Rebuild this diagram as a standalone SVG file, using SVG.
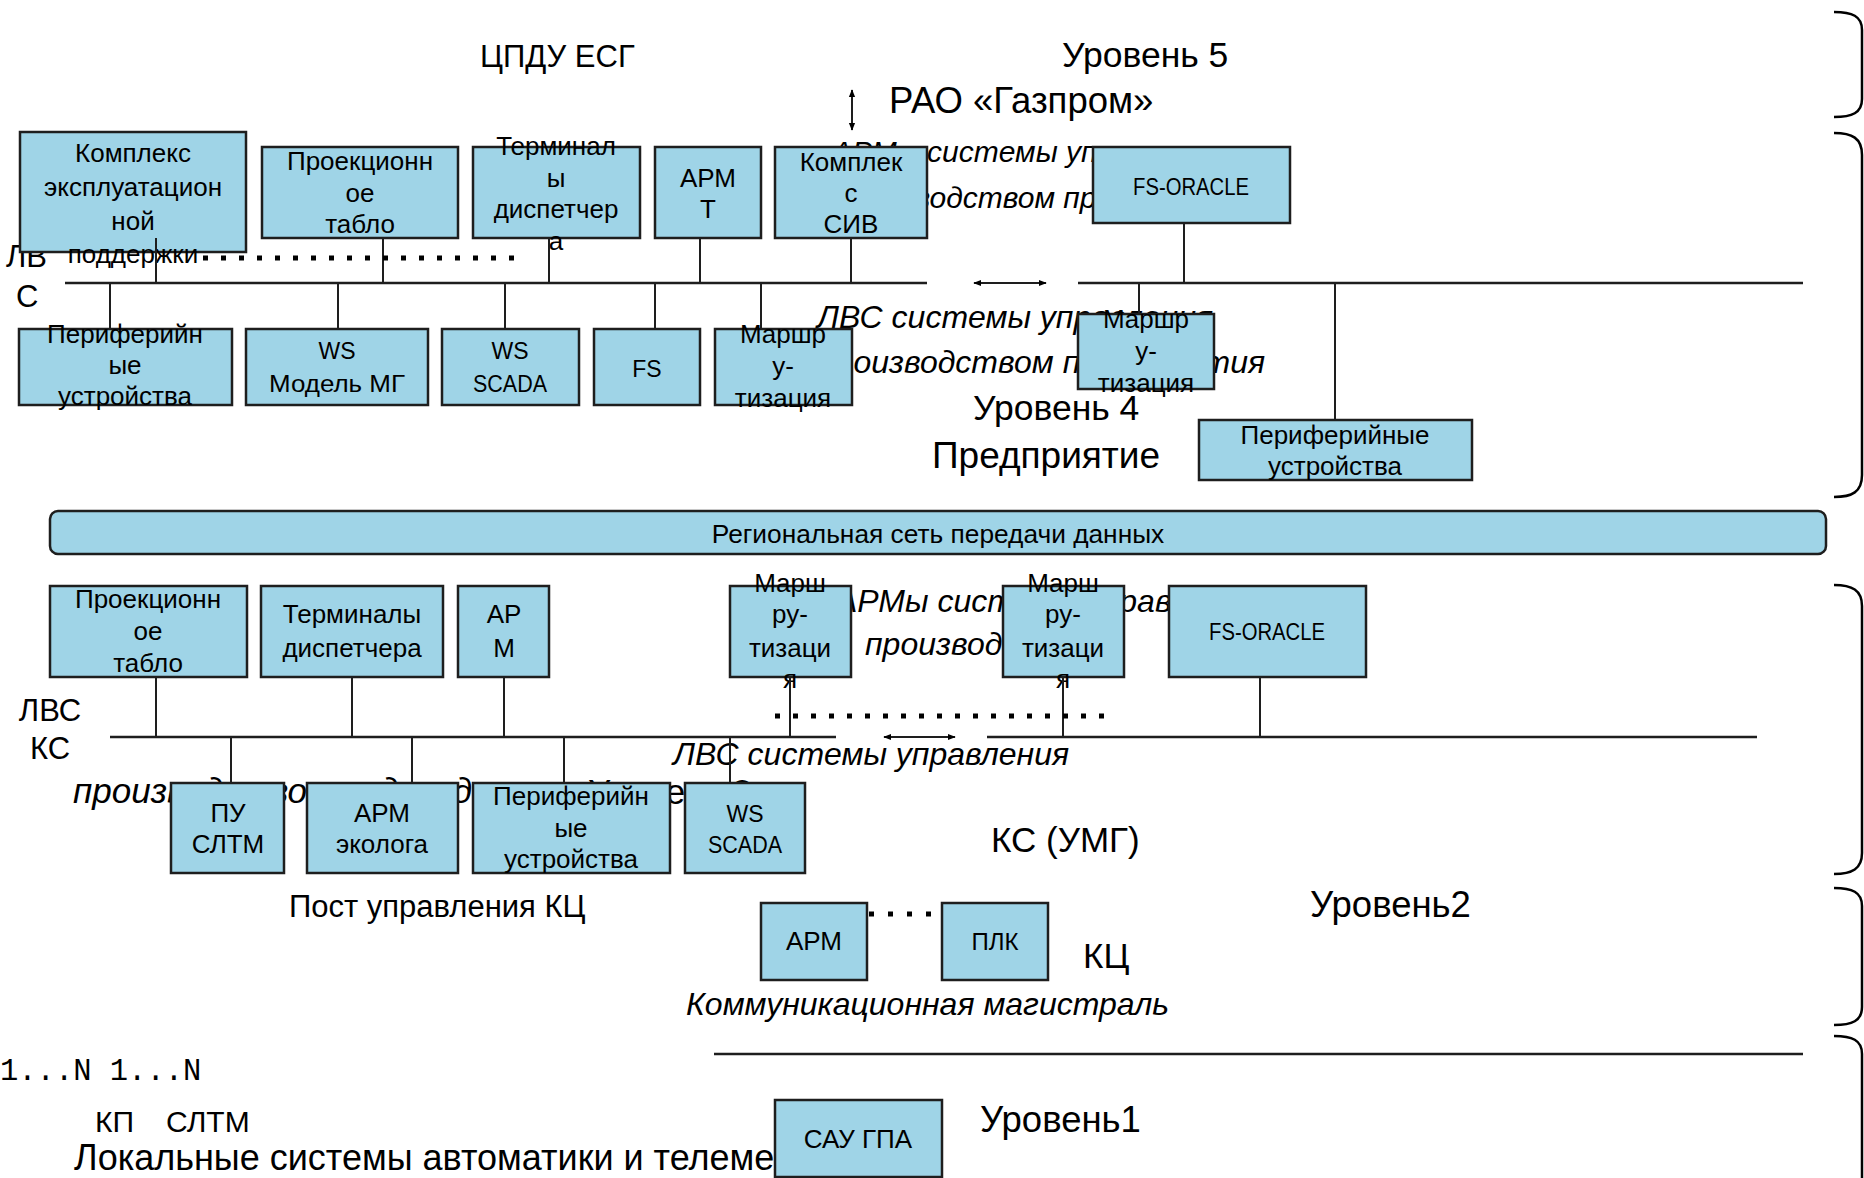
<svg xmlns="http://www.w3.org/2000/svg" width="1864" height="1178" viewBox="0 0 1864 1178">
<defs>
<style>
.bx{fill:#9fd4e7;stroke:#1e1e1e;stroke-width:2.5}
.t{font-family:"Liberation Sans",Arial,sans-serif;font-size:26px;fill:#000;text-anchor:middle}
.c{font-family:"Liberation Sans",Arial,sans-serif;font-size:23px;fill:#000;text-anchor:middle}
.lbl{font-family:"Liberation Sans",Arial,sans-serif;font-size:35px;fill:#000}
.it{font-family:"Liberation Sans",Arial,sans-serif;font-size:32px;font-style:italic;fill:#000}
.mono{font-family:"Liberation Mono","Courier New",monospace;font-size:30px;fill:#000}
.ln{stroke:#1e1e1e;stroke-width:2;fill:none}
.bus{stroke:#1e1e1e;stroke-width:2.5;fill:none}
.dot{stroke:#000;stroke-width:5;stroke-dasharray:5 13;fill:none}
.br{stroke:#000;stroke-width:2.5;fill:none}
</style>
<marker id="ah" viewBox="0 0 10 10" refX="9" refY="5" markerWidth="4" markerHeight="4" orient="auto-start-reverse" markerUnits="strokeWidth">
<path d="M0,1 L10,5 L0,9 z" fill="#000"/>
</marker>
</defs>
<rect width="1864" height="1178" fill="#fff"/>

<g id="background-labels">
<text class="lbl" x="480" y="67" style="font-size:31px">ЦПДУ ЕСГ</text>
<text class="lbl" x="1062" y="67" style="font-size:35.5px">Уровень 5</text>
<text class="lbl" x="889" y="113" style="font-size:36.5px">РАО «Газпром»</text>
<text class="it" x="832" y="162" style="font-size:30px">АРМы системы управления</text>
<text class="it" x="834" y="208" style="font-size:30px">производством предприятия</text>
<text class="lbl" x="6" y="267" style="font-size:31px">ЛВ</text>
<text class="lbl" x="16" y="307" style="font-size:31px">С</text>
<text class="it" x="817" y="328">ЛВС системы управления</text>
<text class="it" x="818" y="373">производством предприятия</text>
<text class="lbl" x="973" y="420" style="font-size:35.5px">Уровень 4</text>
<text class="lbl" x="932" y="468" style="font-size:37px">Предприятие</text>
<text class="it" x="836" y="612">АРМы системы управления</text>
<text class="it" x="865" y="655">производством</text>
<text class="lbl" x="50" y="721" style="font-size:31px;text-anchor:middle">ЛВС</text>
<text class="lbl" x="50" y="759" style="font-size:31px;text-anchor:middle">КС</text>
<text class="it" x="673" y="765">ЛВС системы управления</text>
<text class="it" x="73" y="803" style="font-size:35px">производством подразделения</text>
<text class="lbl" x="588" y="804">Уровень 3</text>
<text class="lbl" x="991" y="852">КС (УМГ)</text>
<text class="lbl" x="289" y="917" style="font-size:31px">Пост управления КЦ</text>
<text class="lbl" x="1083" y="968">КЦ</text>
<text class="lbl" x="1310" y="917" style="font-size:36.5px">Уровень2</text>
<text class="it" x="686" y="1015">Коммуникационная магистраль</text>
<text class="mono" x="0" y="1080" style="font-size:30.5px">1...N 1...N</text>
<text class="lbl" x="95" y="1132" style="font-size:30px">КП</text>
<text class="lbl" x="166" y="1132" style="font-size:30px">СЛТМ</text>
<text class="lbl" x="74" y="1170" style="font-size:36px">Локальные системы автоматики и телемеханики</text>
<text class="lbl" x="980" y="1132" style="font-size:36.5px">Уровень1</text>
</g>

<g id="regional-network">
<rect x="50" y="511" width="1776" height="43" rx="8" class="bx"/>
<text class="t" x="938" y="543" style="font-size:26.3px">Региональная сеть передачи данных</text>
</g>

<g id="n-kompleks-eksp"><rect class="bx" x="20" y="132" width="226" height="120"/>
<text class="t" x="133" y="162">Комплекс</text><text class="t" x="133" y="196">эксплуатацион</text><text class="t" x="133" y="230">ной</text><text class="t" x="133" y="263">поддержки</text></g>
<g id="n-proekt-1"><rect class="bx" x="262" y="147" width="196" height="91"/>
<text class="t" x="360" y="170">Проекционн</text><text class="t" x="360" y="202">ое</text><text class="t" x="360" y="233">табло</text></g>
<g id="n-term-1"><rect class="bx" x="473" y="147" width="167" height="91"/>
<text class="t" x="556" y="155">Терминал</text><text class="t" x="556" y="187">ы</text><text class="t" x="556" y="218">диспетчер</text><text class="t" x="556" y="250">а</text></g>
<g id="n-armt"><rect class="bx" x="655" y="147" width="106" height="91"/>
<text class="t" x="708" y="187">АРМ</text><text class="t" x="708" y="218">Т</text></g>
<g id="n-siv"><rect class="bx" x="775" y="147" width="152" height="91"/>
<text class="t" x="851" y="171">Комплек</text><text class="t" x="851" y="202">с</text><text class="t" x="851" y="233">СИВ</text></g>
<g id="n-fsoracle-1"><rect class="bx" x="1093" y="147" width="197" height="76"/>
<text class="c" x="1191" y="195" textLength="116" lengthAdjust="spacingAndGlyphs">FS-ORACLE</text></g>

<g id="n-periph-1"><rect class="bx" x="19" y="329" width="213" height="76"/>
<text class="t" x="125" y="343">Периферийн</text><text class="t" x="125" y="374">ые</text><text class="t" x="125" y="405">устройства</text></g>
<g id="n-ws-model"><rect class="bx" x="246" y="329" width="182" height="76"/>
<text class="c" x="337" y="359">WS</text><text class="c" x="337" y="392" textLength="136" lengthAdjust="spacingAndGlyphs">Модель МГ</text></g>
<g id="n-ws-scada-1"><rect class="bx" x="442" y="329" width="137" height="76"/>
<text class="c" x="510" y="359">WS</text><text class="c" x="510" y="392" textLength="74" lengthAdjust="spacingAndGlyphs">SCADA</text></g>
<g id="n-fs"><rect class="bx" x="594" y="329" width="106" height="76"/>
<text class="c" x="647" y="377">FS</text></g>
<g id="n-marsh-1"><rect class="bx" x="715" y="329" width="137" height="76"/>
<text class="t" x="783" y="343">Маршр</text><text class="t" x="783" y="375">у-</text><text class="t" x="783" y="407">тизация</text></g>
<g id="n-marsh-2"><rect class="bx" x="1078" y="314" width="136" height="75"/>
<text class="t" x="1146" y="328">Маршр</text><text class="t" x="1146" y="360">у-</text><text class="t" x="1146" y="392">тизация</text></g>
<g id="n-periph-2"><rect class="bx" x="1199" y="420" width="273" height="60"/>
<text class="t" x="1335" y="444">Периферийные</text><text class="t" x="1335" y="475">устройства</text></g>

<g id="n-proekt-2"><rect class="bx" x="50" y="586" width="197" height="91"/>
<text class="t" x="148" y="608">Проекционн</text><text class="t" x="148" y="640">ое</text><text class="t" x="148" y="672">табло</text></g>
<g id="n-term-2"><rect class="bx" x="261" y="586" width="182" height="91"/>
<text class="t" x="352" y="623">Терминалы</text><text class="t" x="352" y="657">диспетчера</text></g>
<g id="n-arm-ks"><rect class="bx" x="458" y="586" width="91" height="91"/>
<text class="t" x="504" y="623">АР</text><text class="t" x="504" y="657">М</text></g>
<g id="n-marsh-3"><rect class="bx" x="730" y="586" width="121" height="91"/>
<text class="t" x="790" y="592">Марш</text><text class="t" x="790" y="623">ру-</text><text class="t" x="790" y="657">тизаци</text><text class="t" x="790" y="688">я</text></g>
<g id="n-marsh-4"><rect class="bx" x="1003" y="586" width="121" height="91"/>
<text class="t" x="1063" y="592">Марш</text><text class="t" x="1063" y="623">ру-</text><text class="t" x="1063" y="657">тизаци</text><text class="t" x="1063" y="688">я</text></g>
<g id="n-fsoracle-2"><rect class="bx" x="1169" y="586" width="197" height="91"/>
<text class="c" x="1267" y="640" textLength="116" lengthAdjust="spacingAndGlyphs">FS-ORACLE</text></g>

<g id="n-pu-sltm"><rect class="bx" x="171" y="783" width="113" height="90"/>
<text class="t" x="228" y="822">ПУ</text><text class="t" x="228" y="853">СЛТМ</text></g>
<g id="n-arm-ekologa"><rect class="bx" x="307" y="783" width="151" height="90"/>
<text class="t" x="382" y="822">АРМ</text><text class="t" x="382" y="853">эколога</text></g>
<g id="n-periph-3"><rect class="bx" x="473" y="783" width="197" height="90"/>
<text class="t" x="571" y="805">Периферийн</text><text class="t" x="571" y="837">ые</text><text class="t" x="571" y="868">устройства</text></g>
<g id="n-ws-scada-2"><rect class="bx" x="685" y="783" width="120" height="90"/>
<text class="c" x="745" y="822">WS</text><text class="c" x="745" y="853" textLength="74" lengthAdjust="spacingAndGlyphs">SCADA</text></g>

<g id="n-arm-kc"><rect class="bx" x="761" y="903" width="106" height="77"/>
<text class="t" x="814" y="950">АРМ</text></g>
<g id="n-plk"><rect class="bx" x="942" y="903" width="106" height="77"/>
<text class="t" x="995" y="950" style="font-size:24px">ПЛК</text></g>
<g id="n-sau-gpa"><rect class="bx" x="775" y="1100" width="167" height="77"/>
<text class="t" x="858" y="1148">САУ ГПА</text></g>

<g id="connectors">
<line class="bus" x1="65" y1="283" x2="927" y2="283"/>
<line class="bus" x1="1078" y1="283" x2="1803" y2="283"/>
<line class="ln" x1="156" y1="238" x2="156" y2="283"/>
<line class="ln" x1="383" y1="238" x2="383" y2="283"/>
<line class="ln" x1="549" y1="238" x2="549" y2="283"/>
<line class="ln" x1="700" y1="238" x2="700" y2="283"/>
<line class="ln" x1="851" y1="238" x2="851" y2="283"/>
<line class="ln" x1="1184" y1="223" x2="1184" y2="283"/>
<line class="ln" x1="110" y1="283" x2="110" y2="329"/>
<line class="ln" x1="338" y1="283" x2="338" y2="329"/>
<line class="ln" x1="505" y1="283" x2="505" y2="329"/>
<line class="ln" x1="655" y1="283" x2="655" y2="329"/>
<line class="ln" x1="761" y1="283" x2="761" y2="329"/>
<line class="ln" x1="1139" y1="283" x2="1139" y2="314"/>
<line class="ln" x1="1335" y1="283" x2="1335" y2="420"/>
<line class="dot" x1="203" y1="258" x2="515" y2="258"/>
<line class="ln" x1="852" y1="90" x2="852" y2="130" marker-start="url(#ah)" marker-end="url(#ah)"/>
<line class="ln" x1="974" y1="283" x2="1046" y2="283" stroke-width="2.5" marker-start="url(#ah)" marker-end="url(#ah)"/>

<line class="bus" x1="110" y1="737" x2="836" y2="737"/>
<line class="bus" x1="987" y1="737" x2="1757" y2="737"/>
<line class="ln" x1="156" y1="677" x2="156" y2="737"/>
<line class="ln" x1="352" y1="677" x2="352" y2="737"/>
<line class="ln" x1="504" y1="677" x2="504" y2="737"/>
<line class="ln" x1="790" y1="677" x2="790" y2="737"/>
<line class="ln" x1="1063" y1="677" x2="1063" y2="737" stroke-width="3"/>
<line class="ln" x1="1260" y1="677" x2="1260" y2="737"/>
<line class="ln" x1="231" y1="737" x2="231" y2="783"/>
<line class="ln" x1="412" y1="737" x2="412" y2="783"/>
<line class="ln" x1="564" y1="737" x2="564" y2="783"/>
<line class="ln" x1="730" y1="737" x2="730" y2="783"/>
<line class="dot" x1="775" y1="716" x2="1111" y2="716"/>
<line class="ln" x1="884" y1="737" x2="955" y2="737" stroke-width="2.5" marker-start="url(#ah)" marker-end="url(#ah)"/>
<line class="dot" x1="869" y1="914" x2="932" y2="914" style="stroke-dasharray:5 14"/>
<line class="bus" x1="714" y1="1054" x2="1803" y2="1054" stroke-width="3"/>
</g>

<g id="level-braces">
<path class="br" d="M1834,12 C1852,12 1862,16 1862,30 L1862,99 C1862,113 1852,117 1834,117"/>
<path class="br" d="M1834,133 C1852,133 1862,138 1862,155 L1862,475 C1862,492 1852,497 1834,497"/>
<path class="br" d="M1834,585 C1852,585 1862,590 1862,606 L1862,853 C1862,869 1852,874 1834,874"/>
<path class="br" d="M1834,888 C1852,888 1862,892 1862,906 L1862,1007 C1862,1021 1852,1025 1834,1025"/>
<path class="br" d="M1834,1036 C1852,1036 1862,1040 1862,1054 L1862,1178"/>
</g>
</svg>
